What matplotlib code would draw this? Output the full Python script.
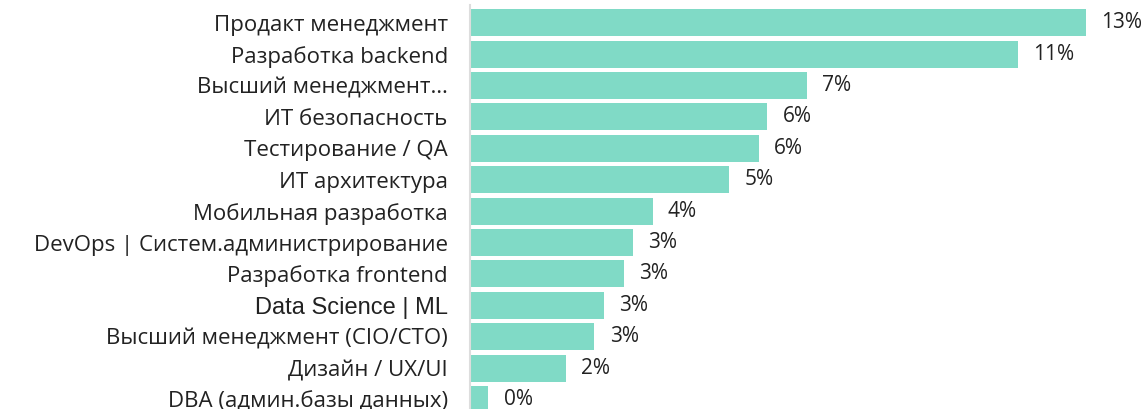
"""Horizontal bar chart: share of roles (%), sorted descending."""

import matplotlib
matplotlib.use("Agg")
import matplotlib.pyplot as plt
from matplotlib.transforms import ScaledTranslation

categories = [
    "Продакт менеджмент",
    "Разработка backend",
    "Высший менеджмент…",
    "ИТ безопасность",
    "Тестирование / QA",
    "ИТ архитектура",
    "Мобильная разработка",
    "DevOps | Систем.администрирование",
    "Разработка frontend",
    "Data Science | ML",
    "Высший менеджмент (CIO/CTO)",
    "Дизайн / UX/UI",
    "DBA (админ.базы данных)",
]
values = [12.72, 11.32, 6.95, 6.14, 5.96, 5.35, 3.77, 3.37, 3.18, 2.76, 2.57, 1.98, 0.38]
value_labels = ["13%", "11%", "7%", "6%", "6%", "5%", "4%", "3%", "3%", "3%", "3%", "2%", "0%"]

BAR_COLOR = "#80dac6"
TEXT_COLOR = "#222222"
FONT = ["Open Sans", "DejaVu Sans"]

fig = plt.figure(figsize=(11.48, 4.09), dpi=100)
ax = fig.add_axes([470 / 1148, 0.0, 1 - 470 / 1148, 1.0])

y = list(range(len(categories)))
ax.barh(y, values, height=0.86, color=BAR_COLOR, edgecolor="none")

for yi, v, lab in zip(y, values, value_labels):
    ax.annotate(lab, (v, yi), xytext=(11, 0), textcoords="offset points",
                va="center", ha="left", fontsize=15, color=TEXT_COLOR,
                family=FONT)

ax.set_xlim(0, 14)
ax.set_ylim(12.30, -0.723)
ax.set_yticks(y)
ax.set_yticklabels(categories, fontsize=16, color=TEXT_COLOR, family=FONT)
# nudge labels up a touch so the last one is not clipped by the bottom edge
lift = ScaledTranslation(0, 2.5 / 72, fig.dpi_scale_trans)
for t in ax.get_yticklabels():
    t.set_transform(t.get_transform() + lift)
    if t.get_text() == "Data Science | ML":
        t.set_family(["Liberation Sans", "DejaVu Sans"])
        t.set_fontsize(17)
ax.tick_params(axis="y", length=0, pad=16)
ax.tick_params(axis="x", bottom=False, labelbottom=False)

for s in ("top", "right", "bottom"):
    ax.spines[s].set_visible(False)
ax.spines["left"].set_color("#dddddd")
ax.spines["left"].set_linewidth(1.5)
ax.spines["left"].set_bounds(-0.55, 12.30)

fig.savefig("out.png", dpi=100)
